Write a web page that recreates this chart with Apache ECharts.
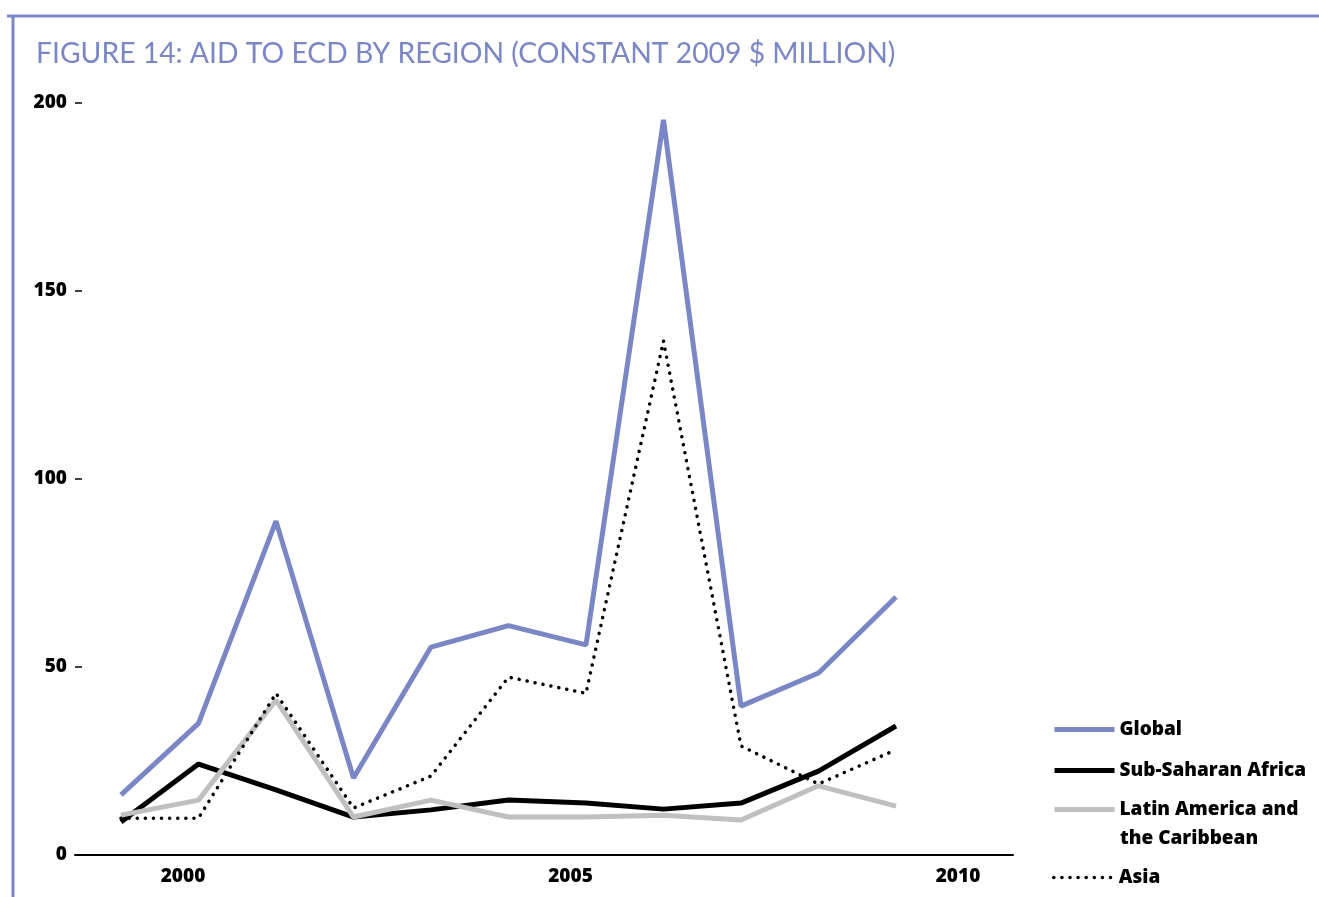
<!DOCTYPE html>
<html>
<head>
<meta charset="utf-8">
<title>Aid to ECD by region</title>
<script src="https://cdn.jsdelivr.net/npm/echarts@6/dist/echarts.min.js"></script>
<style>
    html, body {margin: 0; padding: 0; background: #fff;}
    #chart {width: 1319px; height: 897px;}
</style>
</head>
<body>
<div id="chart"></div>
<script>
var years = [1999, 2000, 2001, 2002, 2003, 2004, 2005, 2006, 2007, 2008, 2009];
var yearLabels = [2000, 2005, 2010];
var globalVals = [16, 35, 88.8, 20.5, 55.3, 61, 55.9, 195.5, 39.6, 48.4, 68.6];
var ssaVals = [8.8, 24.2, 17.3, 10.1, 12, 14.6, 13.8, 12.2, 13.8, 22.3, 34.3];
var lacVals = [10.6, 14.6, 41.2, 10.1, 14.6, 10.1, 10.1, 10.6, 9.3, 18.4, 13];
var asiaVals = [9.8, 9.8, 43, 12.5, 21, 47.3, 43, 136.7, 29, 18.9, 28];

var blue = '#7b86c4';
var labelFont = {fontFamily: 'Open Sans', fontWeight: 800, fontSize: 19, color: '#000'};

function pairs(vals) {
    return years.map(function (y, i) { return [y, vals[i]]; });
}

// one legend per entry so each row can sit where the reference has it
function legendAt(name, top, lineW, text) {
    return {
        data: [name], left: 1052, top: top, orient: 'vertical', padding: 0,
        itemWidth: 60, itemHeight: 14, itemGap: 0,
        textStyle: labelFont, selectedMode: false,
        itemStyle: {opacity: 0},
        lineStyle: {width: lineW},
        formatter: function (n) { return text || n; }
    };
}

var chart = echarts.init(document.getElementById('chart'));
chart.setOption({
    animation: false,
    title: {
        text: 'FIGURE 14: AID TO ECD BY REGION (CONSTANT 2009 $ MILLION)',
        left: 31, top: 35,
        textStyle: {fontFamily: 'Lato', fontWeight: 400, fontSize: 28.3, color: blue}
    },
    graphic: [
        {type: 'line', shape: {x1: 7, y1: 16, x2: 1319, y2: 16}, style: {stroke: blue, lineWidth: 3}},
        {type: 'line', shape: {x1: 13, y1: 16, x2: 13, y2: 897}, style: {stroke: blue, lineWidth: 3}},
        {type: 'text', left: 1120, top: 829, style: {text: 'the Caribbean', font: '800 19px "Open Sans"', fill: '#000'}}
    ],
    legend: [
        legendAt('Global', 720, 5),
        legendAt('Sub-Saharan Africa', 761, 5),
        legendAt('Latin America and the Caribbean', 800, 5, 'Latin America and'),
        legendAt('Asia', 868, 3.5)
    ],
    grid: {left: 75, right: 306, top: 103, bottom: 42},
    xAxis: {
        type: 'value', min: 1998.4065, max: 2010.5097,
        axisLine: {lineStyle: {color: '#000', width: 2}},
        axisTick: {show: false},
        splitLine: {show: false},
        axisLabel: Object.assign({
            customValues: yearLabels, margin: 12, padding: [0, 31, 0, 0],
            formatter: function (v) { return String(v); }
        }, labelFont)
    },
    yAxis: {
        type: 'value', min: 0, max: 200, interval: 50,
        axisLine: {show: false},
        axisTick: {show: true, inside: true, length: 7, lineStyle: {color: '#000', width: 1.5}},
        splitLine: {show: false},
        axisLabel: Object.assign({margin: 8}, labelFont)
    },
    series: [
        {name: 'Global', type: 'line', data: pairs(globalVals), symbol: 'none',
            lineStyle: {color: blue, width: 5}, itemStyle: {color: blue}},
        {name: 'Sub-Saharan Africa', type: 'line', data: pairs(ssaVals), symbol: 'none',
            lineStyle: {color: '#000', width: 5}, itemStyle: {color: '#000'}},
        {name: 'Latin America and the Caribbean', type: 'line', data: pairs(lacVals), symbol: 'none',
            lineStyle: {color: '#c0c0c0', width: 5}, itemStyle: {color: '#c0c0c0'}},
        {name: 'Asia', type: 'line', data: pairs(asiaVals), symbol: 'none', z: 3,
            lineStyle: {color: '#000', width: 3.5, type: [0.1, 8], cap: 'round'}, itemStyle: {color: '#000'}}
    ]
});
</script>
</body>
</html>
